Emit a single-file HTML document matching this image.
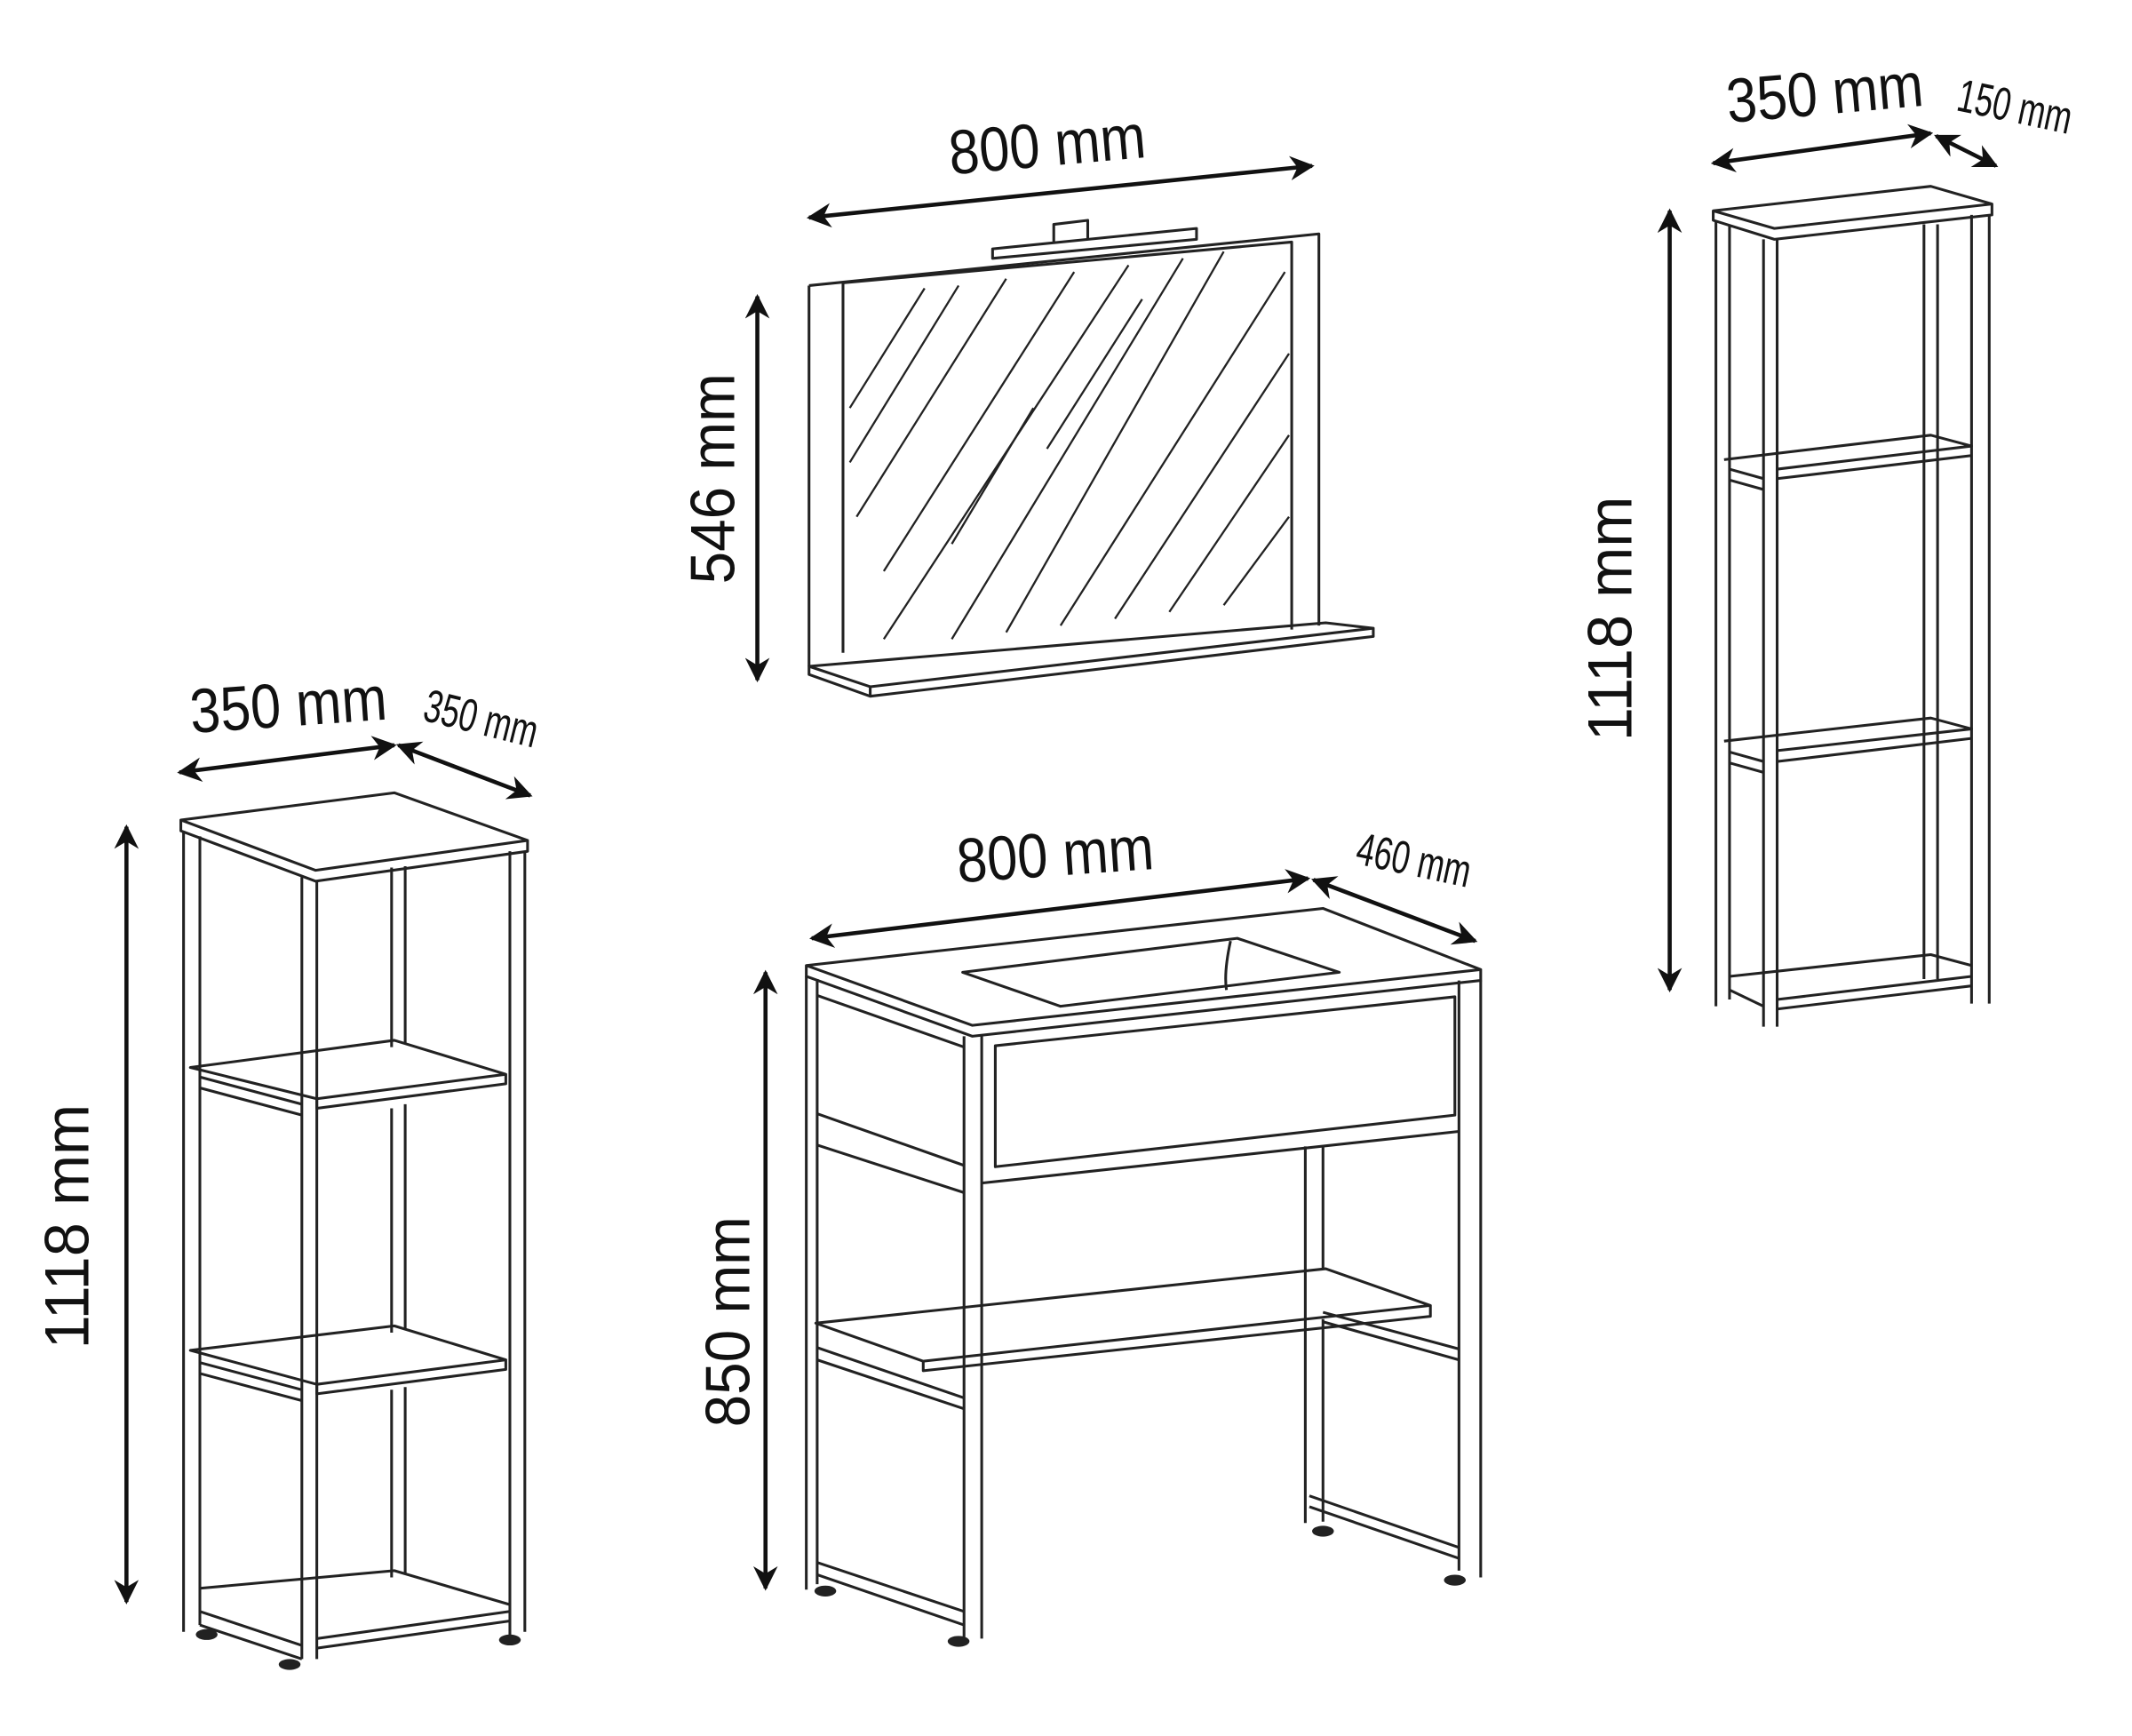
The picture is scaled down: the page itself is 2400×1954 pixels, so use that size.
<!DOCTYPE html>
<html><head><meta charset="utf-8"><style>
html,body{margin:0;padding:0;background:#fff;}
svg{display:block}
text{font-family:"Liberation Sans Narrow","Liberation Sans",sans-serif;fill:#111;}
</style></head><body>
<svg width="2400" height="1954" viewBox="0 0 1568 1276.6" xmlns="http://www.w3.org/2000/svg">
<defs>
<marker id="a" viewBox="0 0 10 10" refX="9" refY="5" markerWidth="6" markerHeight="6" orient="auto-start-reverse"><path d="M0,0 L10,5 L0,10 L3,5z" fill="#111"/></marker>
</defs>
<g stroke="#111" stroke-width="3" fill="none" marker-start="url(#a)" marker-end="url(#a)">
<line x1="595" y1="160" x2="965" y2="122"/>
<line x1="557" y1="218" x2="557" y2="500"/>
<line x1="1260" y1="120" x2="1420" y2="98"/>
<line x1="1424" y1="100" x2="1468" y2="122"/>
<line x1="1228" y1="155" x2="1228" y2="728"/>
<line x1="132" y1="568" x2="290" y2="548"/>
<line x1="293" y1="548" x2="390" y2="585"/>
<line x1="93" y1="608" x2="93" y2="1178"/>
<line x1="597" y1="690" x2="962" y2="646"/>
<line x1="966" y1="647" x2="1085" y2="692"/>
<line x1="563" y1="715" x2="563" y2="1168"/>
</g>
<g font-size="46">
<text x="770" y="122" text-anchor="middle" textLength="145" lengthAdjust="spacingAndGlyphs" transform="rotate(-5 770 105)">800 mm</text>
<text transform="translate(540 352) rotate(-90)" text-anchor="middle" textLength="155" lengthAdjust="spacingAndGlyphs">546 mm</text>
<text x="1342" y="84" text-anchor="middle" textLength="145" lengthAdjust="spacingAndGlyphs" transform="rotate(-5 1342 68)">350 mm</text>
<text transform="translate(1200 455) rotate(-90)" text-anchor="middle" textLength="180" lengthAdjust="spacingAndGlyphs">1118 mm</text>
<text x="212" y="534" text-anchor="middle" textLength="145" lengthAdjust="spacingAndGlyphs" transform="rotate(-4 212 518)">350 mm</text>
<text transform="translate(65 902) rotate(-90)" text-anchor="middle" textLength="180" lengthAdjust="spacingAndGlyphs">1118 mm</text>
<text x="776" y="644" text-anchor="middle" textLength="145" lengthAdjust="spacingAndGlyphs" transform="rotate(-4 776 628)">800 mm</text>
<text transform="translate(551 972) rotate(-90)" text-anchor="middle" textLength="155" lengthAdjust="spacingAndGlyphs">850 mm</text>
</g>
<g font-size="34">
<text x="1482" y="90" text-anchor="middle" textLength="85" lengthAdjust="spacingAndGlyphs" transform="rotate(12 1482 78)">150 mm</text>
<text x="354" y="540" text-anchor="middle" textLength="85" lengthAdjust="spacingAndGlyphs" transform="rotate(14 354 528)">350 mm</text>
<text x="1040" y="644" text-anchor="middle" textLength="85" lengthAdjust="spacingAndGlyphs" transform="rotate(12 1040 632)">460 mm</text>
</g>
<g stroke="#222" stroke-width="2" fill="none" stroke-linejoin="round">
<path d="M595,210 L970,172 L970,460 M595,210 L595,490"/>
<path d="M620,208 L950,178 L950,463 M620,208 L620,480"/>
<path d="M595,490 L975,458 L1010,462 L640,505 Z M640,505 L640,512 L1010,468 L1010,462 M595,490 L595,496 L640,512"/>
<path d="M730,183 L880,168 L880,176 L730,190 Z M775,178 L775,165 L800,162 L800,176"/>
<g stroke-width="1.5">
<path d="M625,300 L680,212 M625,340 L705,210 M630,380 L740,205 M650,420 L790,200"/>
<path d="M650,470 L830,195 M700,470 L870,190 M740,465 L900,185 M780,460 L945,200"/>
<path d="M820,455 L948,260 M860,450 L948,320 M900,445 L948,380"/>
<path d="M770,330 L840,220 M700,400 L760,300"/>
</g>
<path d="M133,603 L290,583 L388,618 L232,640 Z M133,603 L133,611 L232,648 L388,626 L388,618"/>
<path d="M135,611 L135,1200 M147,615 L147,1195"/>
<path d="M222,645 L222,1220 M233,648 L233,1220"/>
<path d="M375,626 L375,1205 M386,626 L386,1200"/>
<path d="M288,638 L288,770 M298,637 L298,768 M288,815 L288,980 M298,812 L298,978 M288,1022 L288,1160 M298,1020 L298,1158"/>
<path d="M140,785 L290,765 L372,790 L233,808 Z M233,808 L233,815 L372,797 L372,790 M147,792 L222,812 M147,800 L222,820"/>
<path d="M140,993 L290,975 L372,1000 L233,1018 Z M233,1018 L233,1025 L372,1007 L372,1000 M147,1002 L222,1022 M147,1010 L222,1030"/>
<path d="M147,1168 L290,1155 L375,1180 M147,1185 L222,1210 M147,1195 L222,1220 M233,1212 L375,1192 M233,1205 L375,1185"/>
<path d="M1260,155 L1420,137 L1465,150 L1305,168 Z M1260,155 L1260,162 L1305,176 L1465,158 L1465,150"/>
<path d="M1262,162 L1262,740 M1272,166 L1272,735"/>
<path d="M1297,176 L1297,755 M1307,176 L1307,755"/>
<path d="M1450,158 L1450,738 M1463,158 L1463,738"/>
<path d="M1415,165 L1415,720 M1425,165 L1425,720"/>
<path d="M1268,338 L1420,320 L1450,328 L1307,345 M1307,352 L1450,335 M1272,345 L1297,352 M1272,353 L1297,360"/>
<path d="M1268,545 L1420,528 L1450,536 L1307,552 M1307,560 L1450,543 M1272,553 L1297,560 M1272,561 L1297,568"/>
<path d="M1272,718 L1420,702 L1450,710 M1272,728 L1297,740 M1307,742 L1450,725 M1307,735 L1450,718"/>
<path d="M593,710 L973,668 L1089,713 L715,754 Z M593,710 L593,718 L715,762 L1089,721 L1089,713"/>
<path d="M708,715 L910,690 L985,715 L780,740 Z M905,692 Q900,715 902,728"/>
<path d="M593,718 L593,1169 M601,720 L601,1165"/>
<path d="M709,762 L709,1205 M722,762 L722,1205"/>
<path d="M1073,721 L1073,1155 M1089,721 L1089,1160"/>
<path d="M732,769 L1070,733 L1070,820 L732,858 Z"/>
<path d="M722,870 L1073,832"/>
<path d="M960,843 L960,1120 M973,843 L973,933 M973,970 L973,1119"/>
<path d="M601,732 L709,770 M601,819 L709,857 M601,842 L709,877"/>
<path d="M600,973 L975,933 L1052,960 L679,1001 Z M679,1001 L679,1008 L1052,968 L1052,960"/>
<path d="M601,991 L709,1028 M601,1000 L709,1036 M973,972 L1073,1000 M973,965 L1073,992"/>
<path d="M601,1149 L709,1185 M601,1158 L709,1195 M963,1108 L1073,1146 M963,1100 L1073,1138"/>
</g>
<g fill="#222">
<ellipse cx="152" cy="1202" rx="8" ry="4"/><ellipse cx="213" cy="1224" rx="8" ry="4"/><ellipse cx="375" cy="1206" rx="8" ry="4"/>
<ellipse cx="607" cy="1170" rx="8" ry="4"/><ellipse cx="705" cy="1207" rx="8" ry="4"/><ellipse cx="973" cy="1126" rx="8" ry="4"/><ellipse cx="1070" cy="1162" rx="8" ry="4"/>
</g>
</svg>
</body></html>
